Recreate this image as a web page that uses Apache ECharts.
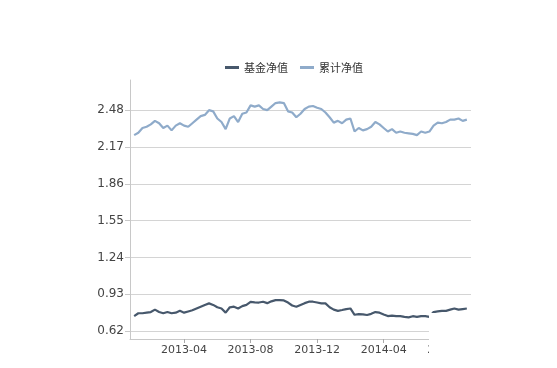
<!DOCTYPE html>
<html>
<head>
<meta charset="utf-8">
<script src="https://cdn.jsdelivr.net/npm/echarts@6/dist/echarts.min.js"></script>
<style>
  html, body { margin: 0; padding: 0; background: #fff; }
  #chart { width: 557px; height: 368px; }
</style>
</head>
<body>
<div id="chart"></div>
<script>
// roughly weekly points, 4 per month (first and last entries carry no value, they pad the axis)
const dates = [
  '2012-12-23',
  '2013-01-01', '2013-01-08', '2013-01-16', '2013-01-23',
  '2013-02-01', '2013-02-08', '2013-02-16', '2013-02-23',
  '2013-03-01', '2013-03-08', '2013-03-16', '2013-03-23',
  '2013-04-01', '2013-04-08', '2013-04-16', '2013-04-23',
  '2013-05-01', '2013-05-08', '2013-05-16', '2013-05-23',
  '2013-06-01', '2013-06-08', '2013-06-16', '2013-06-23',
  '2013-07-01', '2013-07-08', '2013-07-16', '2013-07-23',
  '2013-08-01', '2013-08-08', '2013-08-16', '2013-08-23',
  '2013-09-01', '2013-09-08', '2013-09-16', '2013-09-23',
  '2013-10-01', '2013-10-08', '2013-10-16', '2013-10-23',
  '2013-11-01', '2013-11-08', '2013-11-16', '2013-11-23',
  '2013-12-01', '2013-12-08', '2013-12-16', '2013-12-23',
  '2014-01-01', '2014-01-08', '2014-01-16', '2014-01-23',
  '2014-02-01', '2014-02-08', '2014-02-16', '2014-02-23',
  '2014-03-01', '2014-03-08', '2014-03-16', '2014-03-23',
  '2014-04-01', '2014-04-08', '2014-04-16', '2014-04-23',
  '2014-05-01', '2014-05-08', '2014-05-16', '2014-05-23',
  '2014-06-01', '2014-06-08', '2014-06-16', '2014-06-23',
  '2014-07-01', '2014-07-08', '2014-07-16', '2014-07-23',
  '2014-08-01', '2014-08-08', '2014-08-16', '2014-08-23',
  '2014-09-01',
  '2014-09-08'
];

// 基金净值
const unitNav = [
  null,
  0.746, 0.770, 0.770, 0.775, 0.780, 0.800, 0.780, 0.770,
  0.780, 0.770, 0.775, 0.790, 0.775, 0.785, 0.795, 0.810,
  0.825, 0.840, 0.853, 0.840, 0.820, 0.810, 0.775, 0.820,
  0.825, 0.810, 0.830, 0.840, 0.865, 0.862, 0.860, 0.867,
  0.855, 0.870, 0.880, 0.880, 0.878, 0.860, 0.835, 0.825,
  0.840, 0.855, 0.867, 0.867, 0.860, 0.853, 0.853, 0.820,
  0.800, 0.790, 0.797, 0.805, 0.810, 0.757, 0.763, 0.760,
  0.755, 0.765, 0.780, 0.775, 0.760, 0.746, 0.750, 0.745,
  0.746, 0.740, 0.735, 0.745, 0.740, 0.746, 0.745, 0.740,
  0.780, 0.785, 0.790, 0.790, 0.800, 0.810, 0.800, 0.805,
  0.810,
  null
];

// 累计净值
const totalNav = [
  null,
  2.270, 2.290, 2.330, 2.340, 2.360, 2.390, 2.370, 2.330,
  2.350, 2.310, 2.350, 2.370, 2.350, 2.340, 2.370, 2.400,
  2.430, 2.440, 2.480, 2.470, 2.410, 2.380, 2.320, 2.410,
  2.430, 2.380, 2.450, 2.460, 2.520, 2.510, 2.520, 2.490,
  2.480, 2.510, 2.540, 2.545, 2.540, 2.470, 2.460, 2.420,
  2.450, 2.490, 2.510, 2.515, 2.500, 2.490, 2.460, 2.420,
  2.375, 2.390, 2.370, 2.400, 2.410, 2.300, 2.330, 2.310,
  2.320, 2.340, 2.380, 2.360, 2.330, 2.300, 2.320, 2.290,
  2.300, 2.290, 2.285, 2.280, 2.270, 2.300, 2.290, 2.300,
  2.350, 2.375, 2.370, 2.380, 2.400, 2.400, 2.410, 2.390,
  2.400,
  null
];

const yTicks = [0.62, 0.93, 1.24, 1.55, 1.86, 2.17, 2.48];
const labelMonths = ['04', '08', '12'];

const showMonth = (i, v) => v.endsWith('-01') && labelMonths.includes(v.slice(5, 7));

const chart = echarts.init(document.getElementById('chart'));

chart.setOption({
  animation: false,
  backgroundColor: '#fff',
  legend: {
    top: 57,
    left: 220,
    icon: 'rect',
    itemWidth: 14,
    itemHeight: 3,
    itemGap: 12,
    textStyle: { fontSize: 11, color: '#333', fontFamily: 'Noto Sans CJK SC' },
    data: ['基金净值', '累计净值']
  },
  grid: { left: 130, right: 86, top: 80, bottom: 29 },
  xAxis: {
    type: 'category',
    data: dates,
    boundaryGap: false,
    axisLine: { lineStyle: { color: '#c8c8c8' } },
    axisTick: { interval: showMonth, length: 4, lineStyle: { color: '#aaa' } },
    axisLabel: {
      interval: showMonth,
      formatter: v => v.slice(0, 7),
      color: '#444',
      fontSize: 11,
      fontFamily: 'DejaVu Sans',
      margin: 6
    },
    splitLine: { show: false }
  },
  yAxis: {
    type: 'value',
    min: 0.553,
    max: 2.734,
    axisLine: { show: true, lineStyle: { color: '#c8c8c8' } },
    axisTick: { show: true, length: 5, customValues: yTicks, lineStyle: { color: '#c8c8c8' } },
    axisLabel: {
      customValues: yTicks,
      formatter: v => v.toFixed(2),
      color: '#444',
      fontSize: 12,
      fontFamily: 'DejaVu Sans',
      margin: 6
    },
    splitLine: { show: true, lineStyle: { color: '#d4d4d4' } }
  },
  series: [
    {
      name: '基金净值',
      type: 'line',
      data: unitNav,
      showSymbol: false,
      lineStyle: { width: 2.2, color: '#47586c' },
      itemStyle: { color: '#47586c' }
    },
    {
      name: '累计净值',
      type: 'line',
      data: totalNav,
      showSymbol: false,
      lineStyle: { width: 2.2, color: '#8fabca' },
      itemStyle: { color: '#8fabca' }
    }
  ],
  graphic: [
    {
      type: 'rect',
      left: 429,
      top: 313,
      shape: { width: 60, height: 60 },
      style: { fill: '#fff' },
      z: 100
    }
  ]
});
</script>
</body>
</html>
